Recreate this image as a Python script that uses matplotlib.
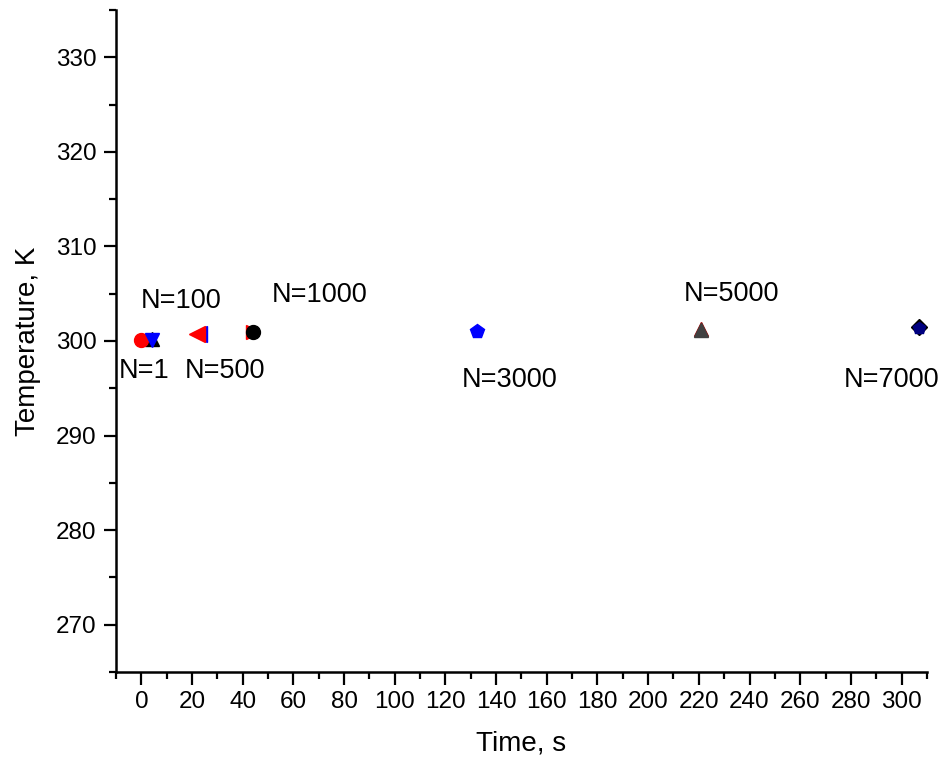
import matplotlib
matplotlib.use("Agg")
import matplotlib.pyplot as plt
from matplotlib.ticker import MultipleLocator

plt.rcParams['font.family'] = ['Liberation Sans', 'DejaVu Sans']

# Data (time in s, temperature in K) for each series
labels = ["N=1", "N=100", "N=500", "N=1000", "N=3000", "N=5000", "N=7000"]
times = [0.0, 4.3, 22.0, 44.2, 132.3, 221.0, 307.0]
temps = [300.15, 300.1, 300.7, 300.95, 301.1, 301.2, 301.4]

# Under-layer markers (partially hidden behind the main markers)
under_times = [4.3, 22.6, 44.2, 220.8, 307.0]
under_temps = [300.2, 300.7, 300.95, 301.22, 301.45]
under_markers = ["^", "<", ">", "^", "D"]
under_colors = ["black", "blue", "red", "#a00000", "black"]

main_markers = ["o", "v", "<", "o", "p", "^", "p"]
main_colors = ["red", "blue", "red", "black", "blue", "#404040", "#000080"]

# Label positions (data coordinates)
label_x = [1.2, 15.8, 33.0, 70.5, 145.4, 233.0, 296.0]
label_y = [296.8, 304.2, 296.8, 304.9, 295.9, 305.0, 295.9]

fig = plt.figure(figsize=(9.41, 7.65), dpi=100)
ax = fig.add_axes([0.1233, 0.1216, 0.8617, 0.8654])

under_sizes = [10, 11, 10, 9.5, 8]
for t, T, m, c, s in zip(under_times, under_temps, under_markers, under_colors, under_sizes):
    ax.plot(t, T, marker=m, color=c, markersize=s, linestyle='none', zorder=2)
main_sizes = [10, 10, 11, 10, 10, 10, 9]
for t, T, m, c, s in zip(times, temps, main_markers, main_colors, main_sizes):
    ax.plot(t, T, marker=m, color=c, markersize=s, linestyle='none', zorder=3)

for lx, ly, lab in zip(label_x, label_y, labels):
    ax.text(lx, ly, lab, fontsize=19.5, ha='center', va='center', color='black')

ax.set_xlim(-10, 310)
ax.set_ylim(265, 335)
ax.xaxis.set_major_locator(MultipleLocator(20))
ax.xaxis.set_minor_locator(MultipleLocator(10))
ax.yaxis.set_major_locator(MultipleLocator(10))
ax.yaxis.set_minor_locator(MultipleLocator(5))

ax.spines['top'].set_visible(False)
ax.spines['right'].set_visible(False)
ax.spines['left'].set_linewidth(1.8)
ax.spines['bottom'].set_linewidth(1.8)

ax.tick_params(which='major', direction='out', length=9, width=1.6, labelsize=17.5, pad=5)
ax.tick_params(which='minor', direction='out', length=5, width=1.6)

ax.set_xlabel("Time, s", fontsize=20, labelpad=12)
ax.set_ylabel("Temperature, K", fontsize=20, labelpad=11)

fig.savefig("out.png", dpi=100)
